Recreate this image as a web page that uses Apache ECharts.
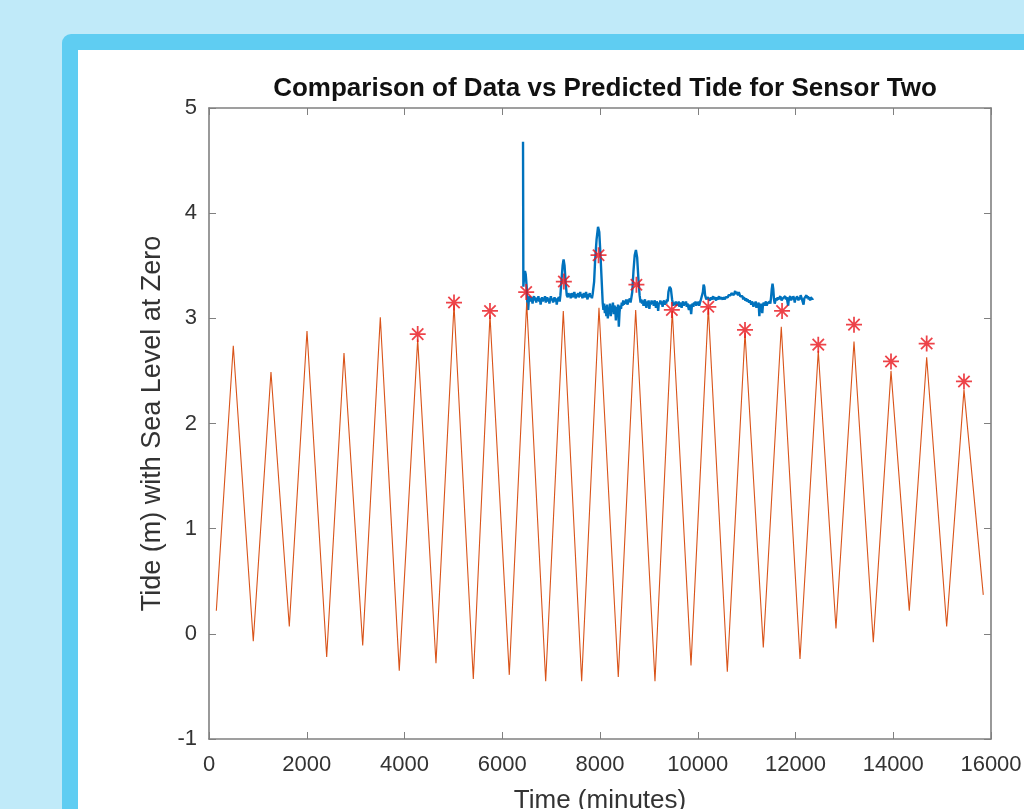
<!DOCTYPE html>
<html>
<head>
<meta charset="utf-8">
<script src="https://cdn.jsdelivr.net/npm/echarts@6/dist/echarts.min.js"></script>
<style>
  html, body { margin: 0; padding: 0; width: 1024px; height: 809px; overflow: hidden; background: #c0eaf9; }
  #frame { position: absolute; left: 62px; top: 34px; width: 1100px; height: 900px; background: #5fcdf2; border-radius: 9px; }
  #inner { position: absolute; left: 78px; top: 50px; width: 1100px; height: 900px; background: #ffffff; }
  #chart { position: absolute; left: 0; top: 0; width: 1024px; height: 809px; }
</style>
</head>
<body>
<div id="frame"></div>
<div id="inner"></div>
<div id="chart"></div>
<script>
// ---- Data ----
const titleText = 'Comparison of Data vs Predicted Tide for Sensor Two';
const xTitle = 'Time (minutes)';
const yTitle = 'Tide (m) with Sea Level at Zero';

// Predicted tide: turning points (minutes, metres)
const predTimes = [150, 497, 906, 1268, 1643, 2005, 2408, 2762, 3145, 3505, 3893, 4270, 4644, 5013, 5408, 5749, 6144, 6500, 6889, 7249, 7625, 7979, 8374, 8730, 9125, 9479, 9862, 10216, 10605, 10967, 11341, 11709, 12092, 12466, 12828, 13197, 13592, 13954, 14328, 14684, 15093, 15447, 15842];
const predValues = [0.22, 2.74, -0.07, 2.49, 0.07, 2.88, -0.22, 2.67, -0.11, 3.01, -0.35, 2.80, -0.28, 3.13, -0.43, 3.03, -0.39, 3.15, -0.45, 3.07, -0.45, 3.10, -0.41, 3.08, -0.45, 3.07, -0.30, 3.10, -0.36, 2.86, -0.13, 2.92, -0.24, 2.69, 0.05, 2.78, -0.08, 2.50, 0.22, 2.63, 0.07, 2.32, 0.37];

// Observed high tides (red stars)
const peakTimes = [4270, 5013, 5749, 6490, 7260, 7970, 8745, 9470, 10216, 10967, 11725, 12466, 13197, 13954, 14684, 15447];
const peakValues = [2.85, 3.15, 3.07, 3.25, 3.35, 3.60, 3.32, 3.08, 3.11, 2.89, 3.07, 2.75, 2.94, 2.59, 2.76, 2.40];

// Sensor data (minutes, metres)
const dataTimes = [6425, 6432, 6445, 6465, 6480, 6500, 6515, 6530, 6545, 6560, 6575, 6590, 6605, 6620, 6635, 6650, 6665, 6680, 6695, 6710, 6725, 6740, 6755, 6770, 6785, 6800, 6815, 6830, 6845, 6860, 6875, 6890, 6905, 6920, 6935, 6950, 6965, 6980, 6995, 7010, 7025, 7040, 7055, 7070, 7085, 7100, 7115, 7130, 7145, 7160, 7175, 7190, 7210, 7235, 7255, 7275, 7300, 7320, 7340, 7355, 7370, 7385, 7400, 7415, 7430, 7445, 7460, 7475, 7490, 7505, 7520, 7535, 7550, 7565, 7580, 7595, 7610, 7625, 7640, 7655, 7670, 7685, 7700, 7715, 7730, 7745, 7760, 7775, 7790, 7805, 7820, 7835, 7850, 7865, 7880, 7900, 7930, 7960, 7985, 8010, 8035, 8055, 8070, 8085, 8100, 8115, 8130, 8145, 8160, 8175, 8190, 8205, 8220, 8235, 8250, 8265, 8280, 8295, 8310, 8325, 8340, 8355, 8370, 8385, 8400, 8415, 8430, 8445, 8460, 8475, 8490, 8505, 8520, 8535, 8550, 8565, 8580, 8595, 8610, 8625, 8640, 8660, 8685, 8710, 8735, 8760, 8785, 8810, 8830, 8845, 8860, 8875, 8890, 8905, 8920, 8935, 8950, 8965, 8980, 8995, 9010, 9025, 9040, 9055, 9070, 9085, 9100, 9115, 9130, 9145, 9160, 9175, 9190, 9205, 9220, 9235, 9250, 9265, 9280, 9295, 9310, 9325, 9340, 9355, 9370, 9385, 9400, 9425, 9450, 9475, 9500, 9520, 9535, 9550, 9565, 9580, 9595, 9610, 9625, 9640, 9655, 9670, 9685, 9700, 9715, 9730, 9745, 9760, 9775, 9790, 9805, 9820, 9835, 9850, 9865, 9880, 9895, 9910, 9925, 9940, 9955, 9970, 9985, 10000, 10015, 10030, 10045, 10060, 10075, 10090, 10105, 10120, 10135, 10150, 10175, 10200, 10225, 10250, 10270, 10285, 10300, 10315, 10330, 10345, 10360, 10375, 10390, 10405, 10420, 10435, 10450, 10465, 10480, 10495, 10510, 10525, 10540, 10555, 10570, 10585, 10600, 10615, 10630, 10645, 10660, 10675, 10690, 10705, 10720, 10735, 10750, 10765, 10780, 10795, 10810, 10825, 10840, 10855, 10870, 10885, 10900, 10915, 10930, 10945, 10960, 10975, 10990, 11005, 11020, 11035, 11050, 11065, 11080, 11095, 11110, 11125, 11140, 11155, 11170, 11185, 11200, 11215, 11230, 11245, 11260, 11275, 11290, 11305, 11320, 11335, 11350, 11365, 11380, 11395, 11410, 11425, 11440, 11455, 11470, 11485, 11500, 11515, 11530, 11545, 11560, 11575, 11590, 11605, 11620, 11635, 11650, 11665, 11690, 11715, 11740, 11765, 11790, 11805, 11820, 11835, 11850, 11865, 11880, 11895, 11910, 11925, 11940, 11955, 11970, 11985, 12000, 12015, 12030, 12045, 12060, 12075, 12090, 12105, 12120, 12135, 12150, 12165, 12180, 12195, 12210, 12225, 12240, 12255, 12270, 12285, 12300, 12315, 12330, 12345, 12360, 12375, 12390, 12405, 12420, 12435, 12450, 12465, 12480, 12495, 12510, 12525, 12540, 12555, 12570, 12585, 12600, 12615, 12625];
const dataValues = [4.68, 3.30, 3.38, 3.45, 3.42, 3.30, 3.12, 3.08, 3.18, 3.21, 3.16, 3.20, 3.18, 3.14, 3.19, 3.21, 3.17, 3.20, 3.15, 3.19, 3.17, 3.21, 3.16, 3.19, 3.13, 3.18, 3.20, 3.16, 3.19, 3.17, 3.21, 3.15, 3.18, 3.20, 3.16, 3.19, 3.14, 3.18, 3.21, 3.17, 3.19, 3.15, 3.18, 3.20, 3.16, 3.19, 3.13, 3.18, 3.17, 3.20, 3.16, 3.22, 3.35, 3.50, 3.56, 3.50, 3.32, 3.22, 3.20, 3.24, 3.21, 3.23, 3.19, 3.24, 3.22, 3.20, 3.23, 3.25, 3.21, 3.19, 3.23, 3.21, 3.24, 3.20, 3.22, 3.25, 3.21, 3.23, 3.19, 3.22, 3.24, 3.20, 3.22, 3.25, 3.21, 3.18, 3.23, 3.21, 3.24, 3.20, 3.22, 3.19, 3.23, 3.24, 3.35, 3.55, 3.75, 3.87, 3.82, 3.60, 3.35, 3.15, 3.08, 3.14, 3.05, 3.12, 3.02, 3.13, 3.00, 3.10, 3.06, 3.14, 3.02, 3.12, 3.08, 3.15, 3.04, 3.12, 3.10, 2.98, 3.11, 3.06, 3.13, 2.92, 3.06, 3.12, 3.09, 3.15, 3.12, 3.17, 3.13, 3.16, 3.14, 3.18, 3.15, 3.13, 3.18, 3.16, 3.19, 3.15, 3.19, 3.25, 3.45, 3.60, 3.65, 3.58, 3.38, 3.22, 3.15, 3.18, 3.14, 3.17, 3.12, 3.16, 3.18, 3.13, 3.10, 3.16, 3.14, 3.17, 3.09, 3.15, 3.13, 3.17, 3.14, 3.16, 3.12, 3.17, 3.15, 3.10, 3.16, 3.14, 3.07, 3.15, 3.13, 3.17, 3.14, 3.16, 3.11, 3.15, 3.17, 3.13, 3.16, 3.14, 3.18, 3.16, 3.25, 3.30, 3.28, 3.18, 3.12, 3.15, 3.13, 3.16, 3.12, 3.15, 3.13, 3.16, 3.11, 3.15, 3.13, 3.10, 3.14, 3.16, 3.12, 3.15, 3.13, 3.16, 3.11, 3.14, 3.15, 3.08, 3.13, 3.11, 3.04, 3.12, 3.14, 3.11, 3.15, 3.13, 3.16, 3.12, 3.15, 3.13, 3.16, 3.12, 3.15, 3.17, 3.16, 3.18, 3.25, 3.32, 3.30, 3.22, 3.18, 3.20, 3.19, 3.17, 3.20, 3.18, 3.19, 3.21, 3.18, 3.20, 3.19, 3.17, 3.20, 3.18, 3.19, 3.21, 3.18, 3.20, 3.19, 3.21, 3.18, 3.20, 3.19, 3.18, 3.20, 3.19, 3.21, 3.20, 3.22, 3.21, 3.23, 3.22, 3.24, 3.23, 3.25, 3.22, 3.24, 3.26, 3.23, 3.25, 3.24, 3.22, 3.25, 3.23, 3.21, 3.22, 3.20, 3.21, 3.18, 3.20, 3.19, 3.17, 3.19, 3.16, 3.18, 3.17, 3.15, 3.17, 3.16, 3.13, 3.16, 3.14, 3.11, 3.15, 3.13, 3.16, 3.10, 3.14, 3.12, 3.15, 3.02, 3.12, 3.14, 3.15, 3.05, 3.13, 3.15, 3.12, 3.14, 3.16, 3.12, 3.14, 3.13, 3.15, 3.16, 3.14, 3.20, 3.28, 3.33, 3.28, 3.18, 3.14, 3.17, 3.19, 3.17, 3.20, 3.18, 3.19, 3.21, 3.17, 3.19, 3.20, 3.21, 3.18, 3.20, 3.21, 3.12, 3.19, 3.18, 3.21, 3.17, 3.20, 3.18, 3.21, 3.19, 3.15, 3.20, 3.18, 3.21, 3.19, 3.17, 3.20, 3.18, 3.22, 3.20, 3.19, 3.21, 3.13, 3.19, 3.20, 3.18, 3.22, 3.19, 3.21, 3.18, 3.20, 3.17, 3.20, 3.19, 3.18, 3.19];

const xTickInterval = 2000;
const yTickInterval = 1;

// ---- Build series data from the arrays ----
const zip = (a, b) => a.map((t, i) => [t, b[i]]);

const asterisk = 'path://M8.9 0H11.1V20H8.9Z M0 8.9H20V11.1H0Z M3.71 2.15L17.85 16.29L16.29 17.85L2.15 3.71Z M17.85 3.71L3.71 17.85L2.15 16.29L16.29 2.15Z';

const axisColor = '#808080';
const labelColor = '#333333';
const fontFamily = 'Liberation Sans, Arial, Helvetica, sans-serif';
const plainNum = v => String(v);

const chart = echarts.init(document.getElementById('chart'), null, { renderer: 'canvas', width: 1024, height: 809 });

const commonAxis = {
  axisLine: { show: true, onZero: false, lineStyle: { color: axisColor, width: 1.6 } },
  axisTick: { show: true, inside: true, length: 7, lineStyle: { color: axisColor, width: 1 } },
  splitLine: { show: false }
};

chart.setOption({
  backgroundColor: 'transparent',
  animation: false,
  title: {
    text: titleText,
    left: 600,
    textAlign: 'center',
    top: 71,
    textStyle: { fontFamily, fontSize: 26, fontWeight: 'bold', color: '#111111' }
  },
  grid: { left: 209, top: 108, width: 782, height: 631, containLabel: false, outerBoundsMode: 'none' },
  xAxis: [
    Object.assign({}, commonAxis, {
      type: 'value', position: 'bottom', min: 0, max: 16000, interval: xTickInterval,
      name: xTitle, nameLocation: 'middle', nameGap: 49,
      nameTextStyle: { fontFamily, fontSize: 26, color: labelColor },
      axisLabel: { show: true, margin: 15, fontFamily, fontSize: 22, color: labelColor, formatter: plainNum }
    }),
    Object.assign({}, commonAxis, {
      type: 'value', position: 'top', min: 0, max: 16000, interval: xTickInterval,
      axisLabel: { show: false }
    })
  ],
  yAxis: [
    Object.assign({}, commonAxis, {
      type: 'value', position: 'left', min: -1, max: 5, interval: yTickInterval,
      name: yTitle, nameLocation: 'middle', nameGap: 36, nameRotate: 90,
      nameTextStyle: { fontFamily, fontSize: 27, color: labelColor },
      axisLabel: { show: true, margin: 12, fontFamily, fontSize: 22, color: labelColor, formatter: plainNum }
    }),
    Object.assign({}, commonAxis, {
      type: 'value', position: 'right', min: -1, max: 5, interval: yTickInterval,
      axisLabel: { show: false }
    })
  ],
  series: [
    {
      name: 'Data', type: 'line', xAxisIndex: 0, yAxisIndex: 0,
      data: zip(dataTimes, dataValues),
      showSymbol: false, symbol: 'none',
      lineStyle: { color: '#0072BD', width: 2.4 },
      z: 2
    },
    {
      name: 'Predicted', type: 'line', xAxisIndex: 0, yAxisIndex: 0,
      data: zip(predTimes, predValues),
      showSymbol: false, symbol: 'none',
      lineStyle: { color: '#D95319', width: 1.1 },
      z: 3
    },
    {
      name: 'High tides', type: 'scatter', xAxisIndex: 0, yAxisIndex: 0,
      data: zip(peakTimes, peakValues),
      symbol: asterisk, symbolSize: 16,
      itemStyle: { color: '#e8141c' },
      z: 4
    }
  ]
});
</script>
</body>
</html>
